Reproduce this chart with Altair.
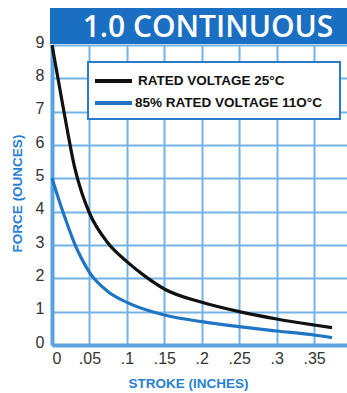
import altair as alt
import pandas as pd

# Force vs. stroke curves for the 1.0 continuous-duty solenoid
SERIES = ["RATED VOLTAGE 25°C", "85% RATED VOLTAGE 11O°C"]
SERIES_COLORS = ["#111111", "#1f74c4"]

stroke_rated = [0.0, 0.01, 0.02, 0.03, 0.04, 0.05, 0.075, 0.1, 0.125, 0.15, 0.2, 0.25, 0.3, 0.35, 0.374]
force_rated = [9.0, 7.75, 6.5, 5.35, 4.55, 3.96, 3.05, 2.5, 2.05, 1.68, 1.28, 1.0, 0.78, 0.6, 0.52]

stroke_85 = [0.0, 0.01, 0.02, 0.03, 0.04, 0.05, 0.075, 0.1, 0.15, 0.2, 0.25, 0.3, 0.35, 0.374]
force_85 = [5.0, 4.3, 3.65, 3.05, 2.57, 2.18, 1.6, 1.28, 0.9, 0.7, 0.55, 0.42, 0.3, 0.22]

x_ticks = [0, 0.05, 0.1, 0.15, 0.2, 0.25, 0.3, 0.35, 0.4]
y_ticks = [0, 1, 2, 3, 4, 5, 6, 7, 8, 9]

TITLE = "1.0 CONTINUOUS"
X_TITLE = "STROKE (INCHES)"
Y_TITLE = "FORCE (OUNCES)"

BLUE = "#1b6fc2"
GRID = "#74b3e6"
AXIS = "#5aa3de"
LABEL_FONT = "Liberation Sans"

curves = pd.concat([
    pd.DataFrame({"stroke": stroke_rated, "force": force_rated, "series": SERIES[0]}),
    pd.DataFrame({"stroke": stroke_85, "force": force_85, "series": SERIES[1]}),
])

W, H = 295, 300
x_scale = alt.Scale(domain=[0, 0.394], nice=False, zero=False)
y_scale = alt.Scale(domain=[0, 9], nice=False)

x_axis = alt.Axis(
    values=x_ticks, grid=True, gridColor=GRID, gridWidth=2, gridOpacity=1,
    domainColor=AXIS, domainWidth=4, ticks=False,
    labelExpr="datum.value == 0 ? '0' : substring(format(datum.value, '.2~f'), 1)",
    labelFont=LABEL_FONT, labelFontSize=16, labelColor="#333333", labelPadding=5,
    title=X_TITLE, titleFont=LABEL_FONT, titleFontSize=13.5, titleFontWeight="bold",
    titleColor="#2a7fd0", titleX=136, titleY=38, titleBaseline="middle", titleAnchor="middle",
)
y_axis = alt.Axis(
    values=y_ticks, grid=True, gridColor=GRID, gridWidth=2, gridOpacity=1,
    domainColor=AXIS, domainWidth=4, ticks=False,
    labelFont=LABEL_FONT, labelFontSize=16, labelColor="#333333", labelPadding=8,
    labelOffset=-3,
    title=Y_TITLE, titleFont=LABEL_FONT, titleFontSize=13.5, titleFontWeight="bold",
    titleColor="#2a7fd0", titleX=-35, titleY=148, titleAngle=270,
    titleBaseline="middle", titleAnchor="middle",
)

lines = alt.Chart(curves).mark_line(interpolate="monotone", strokeWidth=3.2).encode(
    x=alt.X("stroke:Q", scale=x_scale, axis=x_axis),
    y=alt.Y("force:Q", scale=y_scale, axis=y_axis),
    color=alt.Color("series:N", scale=alt.Scale(domain=SERIES, range=SERIES_COLORS), legend=None),
)

one = pd.DataFrame({"title": [TITLE]})

banner = alt.Chart(one).mark_rect(color=BLUE).encode(
    x=alt.value(-2), x2=alt.value(W), y=alt.value(-37), y2=alt.value(-1)
)
banner_text = alt.Chart(one).mark_text(
    font="Open Sans", fontSize=30, fontWeight=600, color="white",
    align="center", baseline="alphabetic",
).encode(x=alt.value(156), y=alt.value(-8), text="title:N")

# Key box with a stroke sample and label per series
legend_box = alt.Chart(one).mark_rect(fill="white", stroke="#2a7acc", strokeWidth=2).encode(
    x=alt.value(36), x2=alt.value(288), y=alt.value(17), y2=alt.value(74)
)
key = pd.DataFrame({"series": SERIES, "color": SERIES_COLORS})
key_layers = []
for i, (name, col) in enumerate(zip(SERIES, SERIES_COLORS)):
    ypos = 36 + 22 * i
    row = key.iloc[[i]]
    key_layers.append(
        alt.Chart(row).mark_rule(strokeWidth=4, color=col).encode(
            x=alt.value(43), x2=alt.value(80), y=alt.value(ypos)
        )
    )
    key_layers.append(
        alt.Chart(row).mark_text(
            font=LABEL_FONT, fontSize=13.5, fontWeight="bold", color="#111111",
            align="left", baseline="middle",
        ).encode(x=alt.value(86 if i == 0 else 83), y=alt.value(ypos), text="series:N")
    )

chart = alt.layer(lines, banner, banner_text, legend_box, *key_layers).properties(
    width=W, height=H,
    autosize=alt.AutoSizeParams(type="none"),
    padding={"left": 52, "top": 45, "right": 0, "bottom": 48},
    background="white",
).configure_view(stroke=None)

chart.save("out.html", embed_options={"renderer": "svg", "actions": False})
